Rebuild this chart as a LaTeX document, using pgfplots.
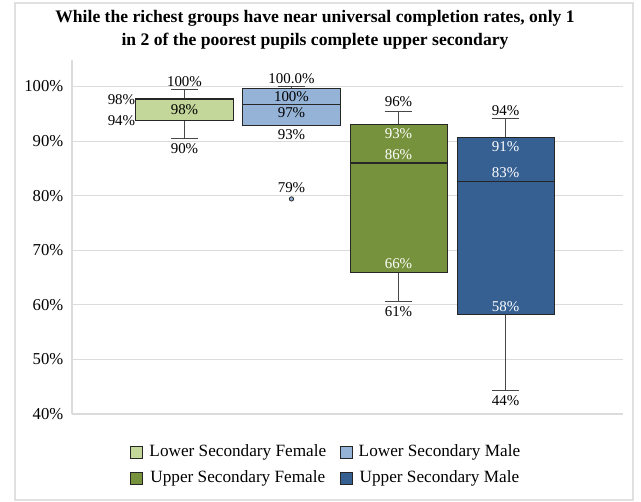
\documentclass[border=0pt]{standalone}
\usepackage{pgfplots}
\pgfplotsset{compat=1.18}
\usepackage{fontspec}
\setmainfont{Liberation Serif}

\definecolor{lsf}{HTML}{C4D79B}
\definecolor{lsm}{HTML}{95B3D7}
\definecolor{usf}{HTML}{76923C}
\definecolor{usm}{HTML}{366092}
\definecolor{edgecol}{HTML}{262626}

\newcommand{\lab}{\fontsize{11.2}{13}\selectfont}
\pgfplotsset{whisk/.style={forget plot, draw=edgecol!85, line width=0.7pt}}
\pgfplotsset{sqlegend/.style={legend image code/.code={\draw[##1] (0pt,-4.5pt) rectangle (9pt,4.5pt); \path (12pt,0pt);}}}

% one box: position, min, q1, median, q3, max, fill colour
\newcommand{\bx}[7]{%
  \pgfmathsetmacro{\boxl}{#1-0.4535}\pgfmathsetmacro{\boxr}{#1+0.4535}%
  \pgfmathsetmacro{\capl}{#1-0.13}\pgfmathsetmacro{\capr}{#1+0.13}%
  \addplot[whisk] coordinates {(#1,#5) (#1,#6)};
  \addplot[whisk] coordinates {(\capl,#6) (\capr,#6)};
  \addplot[whisk] coordinates {(#1,#2) (#1,#3)};
  \addplot[whisk] coordinates {(\capl,#2) (\capr,#2)};
  \addplot[forget plot, fill=#7, draw=edgecol, line width=0.7pt]
    coordinates {(\boxl,#3) (\boxr,#3) (\boxr,#5) (\boxl,#5)} -- cycle;
  \addplot[forget plot, draw=edgecol, line width=0.9pt] coordinates {(\boxl,#4) (\boxr,#4)};
}

\begin{document}
\begin{tikzpicture}
\path (0,0) rectangle (480.75pt,-375.75pt);
\draw[black!12, line width=0.8pt] (11.25pt,-2.25pt) rectangle (474.75pt,-375pt);
\node[font=\bfseries\fontsize{13.2}{17.2}\selectfont, align=center] at (236.25pt,-22.1pt)
  {While the richest groups have near universal completion rates, only 1\\in 2 of the poorest pupils complete upper secondary};

\begin{axis}[
    at={(54pt,-310.5pt)}, anchor=south west,
    scale only axis,
    width=413.25pt, height=265.5pt,
    xmin=-0.051, xmax=5.098,
    ymin=40, ymax=104.85,
    ytick={40,50,...,100},
    yticklabel={\pgfmathprintnumber{\tick}\%},
    /pgf/number format/assume math mode=true,
    yticklabel style={font=\fontsize{12.5}{14}\selectfont, xshift=-3pt},
    xtick=\empty,
    major tick length=0pt,
    ymajorgrids,
    grid style={black!14, line width=0.8pt},
    axis x line*=bottom, axis y line*=left,
    axis line style={-, draw=black!14, line width=0.8pt},
    legend columns=2,
    sqlegend,
    legend style={at={(0.462,-0.144)}, anchor=center, draw=none, fill=none,
        font=\fontsize{12.9}{15}\selectfont, row sep=5pt,
        /tikz/every even column/.append style={column sep=8pt}},
]

% position, min, q1, median, q3, max
\bx{1}{90.4}{93.7}{97.6}{97.75}{99.4}{lsf}
\bx{2}{92.8}{92.8}{96.7}{99.7}{100}{lsm}
\bx{3}{60.6}{66.0}{86.0}{93.1}{95.5}{usf}
\bx{4}{44.3}{58.3}{82.6}{90.7}{94.2}{usm}
% outlier
\addplot[forget plot, only marks, mark=*, mark size=1.6pt,
    mark options={fill=lsm, draw=edgecol, line width=0.6pt}] coordinates {(2,79.4)};

% data labels
\node[font=\lab] at (axis cs:1,100.9) {100\%};
\node[font=\lab] at (axis cs:1,95.7) {98\%};
\node[font=\lab] at (axis cs:1,88.7) {90\%};
\node[font=\lab] at (axis cs:0.411,97.5) {98\%};
\node[font=\lab] at (axis cs:0.411,93.7) {94\%};

\node[font=\lab] at (axis cs:2,101.4) {100.0\%};
\node[font=\lab] at (axis cs:2,98.1) {100\%};
\node[font=\lab] at (axis cs:2,95.2) {97\%};
\node[font=\lab] at (axis cs:2,91.1) {93\%};
\node[font=\lab] at (axis cs:2,81.4) {79\%};

\node[font=\lab] at (axis cs:3,97.2) {96\%};
\node[font=\lab, text=white] at (axis cs:3,91.4) {93\%};
\node[font=\lab, text=white] at (axis cs:3,87.5) {86\%};
\node[font=\lab, text=white] at (axis cs:3,67.6) {66\%};
\node[font=\lab] at (axis cs:3,58.8) {61\%};

\node[font=\lab] at (axis cs:4,95.6) {94\%};
\node[font=\lab, text=white] at (axis cs:4,89.0) {91\%};
\node[font=\lab, text=white] at (axis cs:4,84.2) {83\%};
\node[font=\lab, text=white] at (axis cs:4,59.7) {58\%};
\node[font=\lab] at (axis cs:4,42.5) {44\%};

\addlegendimage{draw=edgecol, fill=lsf}
\addlegendentry{Lower Secondary Female}
\addlegendimage{draw=edgecol, fill=lsm}
\addlegendentry{Lower Secondary Male}
\addlegendimage{draw=edgecol, fill=usf}
\addlegendentry{Upper Secondary Female}
\addlegendimage{draw=edgecol, fill=usm}
\addlegendentry{Upper Secondary Male}
\end{axis}
\end{tikzpicture}
\end{document}
